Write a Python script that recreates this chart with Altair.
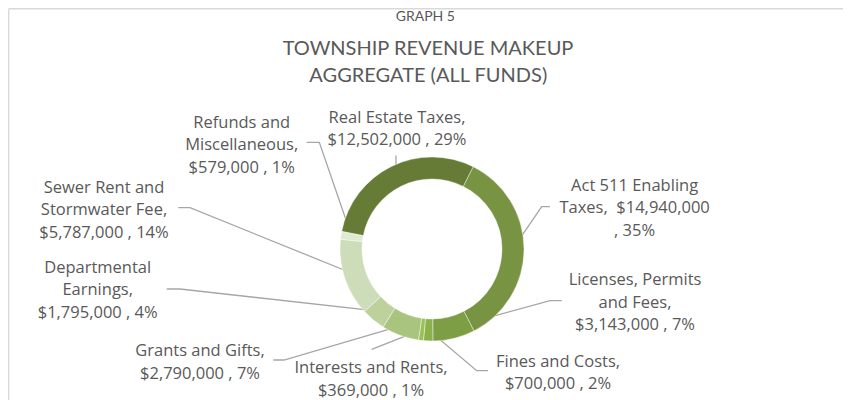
import math
import altair as alt
import pandas as pd

# ---------------- data ----------------
categories = [
    "Real Estate Taxes",
    "Act 511 Enabling Taxes",
    "Licenses, Permits and Fees",
    "Fines and Costs",
    "Interests and Rents",
    "Grants and Gifts",
    "Departmental Earnings",
    "Sewer Rent and Stormwater Fee",
    "Refunds and Miscellaneous",
]
values = [12502000, 14940000, 3143000, 700000, 369000, 2790000, 1795000, 5787000, 579000]
colors = ["#667C36", "#789443", "#7E9E45", "#8BB04C", "#9CC058",
          "#A9C47E", "#BDD19D", "#CEDDB9", "#E0EAD3"]

label_lines = [
    ["Real Estate Taxes,", "$12,502,000 , 29%"],
    ["Act 511 Enabling", "Taxes, \u00a0$14,940,000", ", 35%"],
    ["Licenses, Permits", "and Fees,", "$3,143,000 , 7%"],
    ["Fines and Costs,", "$700,000 , 2%"],
    ["Interests and Rents,", "$369,000 , 1%"],
    ["Grants and Gifts,", "$2,790,000 , 7%"],
    ["Departmental", "Earnings,", "$1,795,000 , 4%"],
    ["Sewer Rent and", "Stormwater Fee,", "$5,787,000 , 14%"],
    ["Refunds and", "Miscellaneous,", "$579,000 , 1%"],
]
title_lines = ["GRAPH 5", "TOWNSHIP REVENUE MAKEUP", "AGGREGATE (ALL FUNDS)"]

# ---------------- layout (page pixel coordinates) ----------------
W, H = 835, 392
CX, CY = 432, 249
R_OUT, R_IN, R_LEAD = 92, 70, 81
START_DEG = 281.0
LINE_H = 22.6

label_pos = [(397, 122.7), (634.6, 190.7), (635, 285), (558, 366.7), (371, 373.3),
             (200, 356), (97.7, 272.7), (104, 192.5), (241.7, 127.6)]
leader_tail = [
    [(395.9, 155.5)],
    [(541.7, 206.7), (550, 206.7)],
    [(550, 300.7), (561.7, 300.7)],
    [(476.7, 370.7), (488, 370.7)],
    [(371.7, 349.3)],
    [(284, 360), (273.3, 360)],
    [(180, 289), (166.7, 289)],
    [(190, 207.7), (178.3, 207.7)],
    [(319.3, 142.3), (306.7, 142.3)],
]
title_pos = [(425.3, 20.5, 14), (428, 55, 20), (428.3, 82.3, 20)]

# ---------------- tables ----------------
pie = pd.DataFrame({"category": categories, "value": values, "order": range(len(values))})

total = sum(values)
rows = []
cum = 0
for i, (cat, v) in enumerate(zip(categories, values)):
    mid = math.radians(START_DEG) + 2 * math.pi * (cum + v / 2) / total
    cum += v
    pts = [(CX + R_LEAD * math.sin(mid), CY - R_LEAD * math.cos(mid))] + leader_tail[i]
    for j, (px, py) in enumerate(pts):
        rows.append({"category": cat, "seq": j, "x": px, "y": py})
leaders = pd.DataFrame(rows)

trows = []
for lines, (lx, ly) in zip(label_lines, label_pos):
    for k, t in enumerate(lines):
        trows.append({"text": t, "x": lx, "y": ly + k * LINE_H})
labels = pd.DataFrame(trows)

titles = pd.DataFrame({"text": title_lines,
                       "x": [p[0] for p in title_pos],
                       "y": [p[1] for p in title_pos],
                       "size": [p[2] for p in title_pos]})

xs = alt.Scale(domain=[8, 8 + W], nice=False, zero=False)
ys = alt.Scale(domain=[8, 8 + H], nice=False, zero=False, reverse=True)

GRAY = "#595959"

ring = alt.Chart(pie).mark_arc(outerRadius=R_OUT, innerRadius=R_IN, stroke="white",
                               strokeWidth=0.4).encode(
    theta=alt.Theta("value:Q", stack=True,
                    scale=alt.Scale(range=[math.radians(START_DEG),
                                           math.radians(START_DEG) + 2 * math.pi])),
    color=alt.Color("category:N", scale=alt.Scale(domain=categories, range=colors), legend=None),
    order=alt.Order("order:Q"),
    x=alt.value(CX - 8),
    y=alt.value(CY - 8),
)

lead = alt.Chart(leaders).mark_line(color="#A6A6A6", strokeWidth=1.3).encode(
    x=alt.X("x:Q", scale=xs, axis=None),
    y=alt.Y("y:Q", scale=ys, axis=None),
    detail="category:N",
    order="seq:Q",
)

text = alt.Chart(labels).mark_text(font="Open Sans", fontSize=16.5, color=GRAY, align="center",
                                   baseline="alphabetic").encode(
    x=alt.X("x:Q", scale=xs, axis=None),
    y=alt.Y("y:Q", scale=ys, axis=None),
    text="text:N",
)

ttl = alt.Chart(titles).mark_text(font="Lato", color=GRAY, align="center",
                                  baseline="alphabetic").encode(
    x=alt.X("x:Q", scale=xs, axis=None),
    y=alt.Y("y:Q", scale=ys, axis=None),
    text="text:N",
    size=alt.Size("size:Q", scale=None, legend=None),
)

border_df = pd.DataFrame({"x": [8.7, 845], "y": [400, 400],
                          "x2": [8.7, 845], "y2": [8.7, 8.7]})
top_df = pd.DataFrame({"x": [8.7], "y": [8.7], "x2": [845], "y2": [8.7]})
border = alt.Chart(pd.concat([border_df, top_df])).mark_rule(color="#D9D9D9", strokeWidth=1.4).encode(
    x=alt.X("x:Q", scale=xs, axis=None), y=alt.Y("y:Q", scale=ys, axis=None),
    x2="x2:Q", y2="y2:Q",
)

chart = alt.layer(border, lead, ring, text, ttl).properties(
    width=W, height=H, padding=0, autosize=alt.AutoSizeParams(type="none"),
).configure_view(stroke=None)

chart.save("out.html", embed_options={"renderer": "svg", "actions": False})
